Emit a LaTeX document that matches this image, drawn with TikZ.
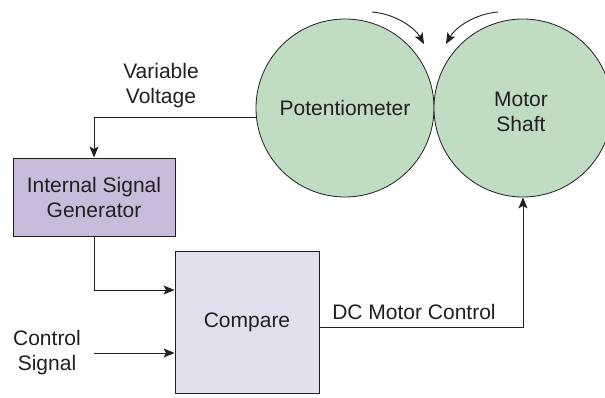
\documentclass[tikz,border=0pt]{standalone}
\usepackage{fontspec}
\setmainfont{Liberation Sans}
\usetikzlibrary{arrows.meta,calc}
\definecolor{ink}{HTML}{231F20}
\definecolor{wheel}{HTML}{C0DCC2}
\definecolor{genfill}{HTML}{C9BBDB}
\definecolor{cmpfill}{HTML}{E3DFEE}
\tikzset{
  lbl/.style={font=\fontsize{21}{25}\selectfont, text=ink, align=center, inner sep=0pt},
  wheelnode/.style={circle, draw=ink, line width=0.8pt, fill=wheel, minimum size=178pt, inner sep=0pt, lbl},
  blockbox/.style={rectangle, draw=ink, line width=0.9pt, lbl},
  conn/.style={draw=ink, line width=0.9pt},
  arr/.style={conn, -{Stealth[length=11pt,width=9pt,inset=2.5pt]}},
}
\begin{document}
\begin{tikzpicture}[x=1pt,y=-1pt]
  \useasboundingbox (0,0) rectangle (605,398);
  \fill[white] (0,0) rectangle (605,398);
  \begin{scope}
    \clip (0,0) rectangle (605,398);
    % the two rollers
    \node[wheelnode] (pot) at (345,108) {Potentiometer};
    \node[wheelnode] (motor) at (523,108) {};
    \node[lbl] (motorlbl) at (521,112) {Motor\\Shaft};
  \end{scope}

  % rotation arrows above the contact point
  \draw[arr] (372,12) .. controls (396,14) and (415,28) .. (424,44);
  \draw[arr] (498,12) .. controls (474,14) and (455,28) .. (446,44);

  % signal blocks
  \node[blockbox, fill=genfill, minimum width=162pt, minimum height=78pt] (gen) at (94,197) {Internal Signal\\Generator};
  \node[blockbox, fill=cmpfill, minimum width=144pt, minimum height=142pt] (cmp) at (247,322) {Compare};

  % labels
  \node[lbl] (vvlbl) at (161,86) {Variable\\Voltage};
  \node[lbl] (ctrl) at (47,353) {Control\\Signal};
  \node[lbl] (dclbl) at (414,312) {DC Motor Control};

  % connectors
  \draw[arr] (pot.186) -| (gen.north);
  \draw[arr] (gen.south) |- ([yshift=32pt]cmp.west);
  \draw[arr] ([xshift=13pt]ctrl.east) -- (ctrl.east -| cmp.west);
  \draw[arr] ([yshift=-5pt]cmp.east) -| (motor.south);
\end{tikzpicture}
\end{document}
